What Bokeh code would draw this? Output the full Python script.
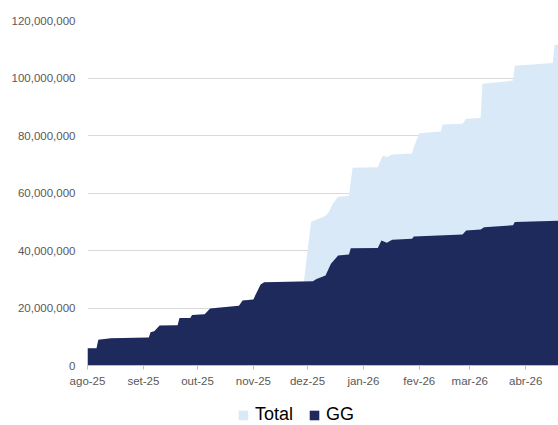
import pandas as pd
from bokeh.plotting import figure
from bokeh.layouts import column
from bokeh.models import (ColumnDataSource, Legend, LegendItem, FixedTicker,
                          NumeralTickFormatter, Range1d)
from bokeh.embed import file_html
from bokeh.resources import INLINE

# GG cumulative values (millions)
gg_dates = ["2025-08-01", "2025-08-06", "2025-08-07", "2025-08-14", "2025-09-04",
            "2025-09-05", "2025-09-07", "2025-09-10", "2025-09-20", "2025-09-21",
            "2025-09-27", "2025-09-28", "2025-10-05", "2025-10-08", "2025-10-24",
            "2025-10-26", "2025-11-01", "2025-11-05", "2025-11-07", "2025-12-04",
            "2025-12-06", "2025-12-11", "2025-12-14", "2025-12-18", "2025-12-24",
            "2025-12-25", "2026-01-09", "2026-01-11", "2026-01-14", "2026-01-17",
            "2026-01-28", "2026-01-29", "2026-02-25", "2026-02-27", "2026-03-07",
            "2026-03-09", "2026-03-25", "2026-03-26", "2026-04-20"]
gg_millions = [6.0, 6.0, 9.0, 9.5, 9.7,
               11.6, 11.9, 13.9, 14.0, 16.5,
               16.5, 17.6, 17.8, 19.8, 20.8,
               22.6, 23.0, 28.2, 29.0, 29.3,
               30.1, 31.3, 35.4, 38.3, 38.6,
               40.8, 40.9, 43.5, 42.7, 43.7,
               44.1, 44.9, 45.6, 47.0, 47.3,
               48.1, 48.8, 49.9, 50.4]

# Total cumulative values (millions); equal to GG until late November
total_dates = gg_dates[:19] + [
    "2025-11-29", "2025-12-03", "2025-12-05", "2025-12-11", "2025-12-13",
    "2025-12-15", "2025-12-18", "2025-12-24", "2025-12-26", "2026-01-09",
    "2026-01-11", "2026-01-12", "2026-01-14", "2026-01-17", "2026-01-28",
    "2026-01-29", "2026-02-01", "2026-02-13", "2026-02-14", "2026-02-25",
    "2026-02-27", "2026-03-07", "2026-03-08", "2026-03-25", "2026-03-26",
    "2026-04-16", "2026-04-17", "2026-04-20"]
total_millions = gg_millions[:19] + [
    29.2, 49.9, 50.5, 52.0, 53.5,
    56.2, 58.7, 59.0, 68.8, 69.0,
    72.0, 73.0, 72.5, 73.4, 73.7,
    76.0, 80.8, 81.4, 83.8, 84.1,
    85.8, 86.1, 98.0, 99.1, 104.3,
    105.2, 111.5, 111.8]

month_ticks = ["2025-08-01", "2025-09-01", "2025-10-01", "2025-11-01", "2025-12-01",
               "2026-01-01", "2026-02-01", "2026-03-01", "2026-04-01"]
month_labels = ["ago-25", "set-25", "out-25", "nov-25", "dez-25",
                "jan-26", "fev-26", "mar-26", "abr-26"]
y_ticks = [0, 20_000_000, 40_000_000, 60_000_000, 80_000_000, 100_000_000, 120_000_000]
series_names = ["Total", "GG"]

FONT = "Liberation Sans"
DARK = "#1E2A5C"
LIGHT = "#DAE9F7"

gg_src = ColumnDataSource(dict(x=pd.to_datetime(gg_dates),
                               y=[v * 1e6 for v in gg_millions]))
tot_src = ColumnDataSource(dict(x=pd.to_datetime(total_dates),
                                y=[v * 1e6 for v in total_millions]))

x_start = pd.Timestamp("2025-08-01")
x_end = pd.Timestamp("2026-04-19 05:00")

p = figure(width=558, height=400, x_axis_type="datetime",
           output_backend="svg", toolbar_location=None,
           x_range=Range1d(x_start, x_end), y_range=Range1d(0, 120_000_000),
           min_border_left=87, min_border_right=0, min_border_top=20,
           min_border_bottom=35)
p.outline_line_color = None
p.background_fill_color = "white"

r_tot = p.varea(x="x", y1=0, y2="y", source=tot_src, fill_color=LIGHT)
r_gg = p.varea(x="x", y1=0, y2="y", source=gg_src, fill_color=DARK)

tick_ms = [pd.Timestamp(t).value / 1e6 for t in month_ticks]
p.xaxis.ticker = FixedTicker(ticks=tick_ms)
p.xaxis.major_label_overrides = {ms: lab for ms, lab in zip(tick_ms, month_labels)}
p.xaxis.axis_line_color = "#BFBFBF"
p.xaxis.major_tick_line_color = "#BFBFBF"
p.xaxis.major_tick_out = 4
p.xaxis.major_tick_in = 0
p.xaxis.minor_tick_line_color = None
p.xaxis.major_label_standoff = 5

p.yaxis.ticker = FixedTicker(ticks=y_ticks)
p.yaxis.formatter = NumeralTickFormatter(format="0,0")
p.yaxis.axis_line_color = None
p.yaxis.major_tick_line_color = None
p.yaxis.minor_tick_line_color = None
p.yaxis.major_tick_out = 0
p.yaxis.major_tick_in = 0
p.yaxis.major_label_standoff = 12

for ax in (p.xaxis, p.yaxis):
    ax.major_label_text_font = FONT
    ax.major_label_text_font_size = "11.5px"
    ax.major_label_text_color = "#595959"

p.xgrid.grid_line_color = None
p.ygrid.grid_line_color = "#D9D9D9"
p.ygrid.ticker = FixedTicker(ticks=y_ticks[1:])

# legend strip below the chart (its renderers are hidden; only the legend shows)
lg = figure(width=558, height=25, output_backend="svg", toolbar_location=None,
            x_range=Range1d(0, 1), y_range=Range1d(0, 1),
            min_border_left=0, min_border_right=0, min_border_top=0,
            min_border_bottom=0)
lg.axis.visible = False
lg.grid.visible = False
lg.outline_line_color = None
d_tot = lg.varea(x="x", y1=0, y2="y", source=tot_src, fill_color=LIGHT, visible=False)
d_gg = lg.varea(x="x", y1=0, y2="y", source=gg_src, fill_color=DARK, visible=False)

legend = Legend(items=[LegendItem(label=series_names[0], renderers=[d_tot]),
                       LegendItem(label=series_names[1], renderers=[d_gg])],
                orientation="horizontal", location=(150, 0),
                click_policy="none", inactive_fill_alpha=0,
                border_line_color=None, background_fill_alpha=0,
                label_text_font=FONT, label_text_font_size="18px",
                label_text_color="#000000", label_height=14,
                glyph_width=12, glyph_height=12, label_standoff=6,
                spacing=15, padding=0, margin=0)
lg.add_layout(legend)

layout = column(p, lg, spacing=0)
open("out.html", "w").write(file_html(layout, INLINE))
